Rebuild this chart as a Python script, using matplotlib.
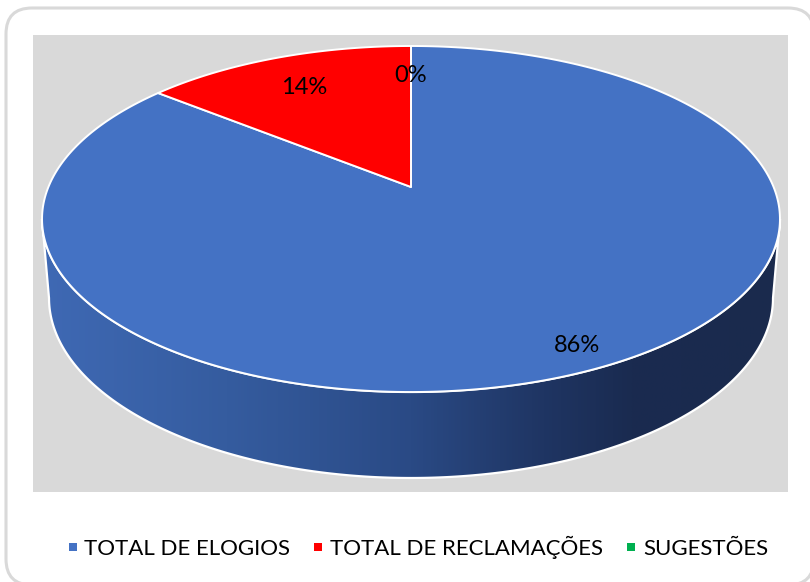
import numpy as np
import matplotlib
matplotlib.use("Agg")
import matplotlib.pyplot as plt
from matplotlib.lines import Line2D
from matplotlib.patches import FancyBboxPatch, Polygon
from matplotlib.colors import LinearSegmentedColormap

categories = ["TOTAL DE ELOGIOS", "TOTAL DE RECLAMAÇÕES", "SUGESTÕES"]
values = [85.8, 14.2, 0]
colors = ["#4472C4", "#FF0000", "#00B050"]
label_pos = [(577, 345), (304, 87), (411, 76)]

FONT = "Lato"
W, H = 810, 582
fig = plt.figure(figsize=(W / 100, H / 100), dpi=100)
ax = fig.add_axes([0, 0, 1, 1])
ax.set_xlim(0, W)
ax.set_ylim(H, 0)
ax.axis("off")

# frame and plot area
ax.add_patch(FancyBboxPatch((6, 8), 808, 577, boxstyle="round,pad=0,rounding_size=26",
                            fc="white", ec="#D9D9D9", lw=2.2, zorder=0))
ax.fill_between([33, 788], 35, 492, color="#D9D9D9", lw=0, zorder=1)

# perspective mapping of the unit disc onto the top face
CX, K, A, B, C = 411, 362.6, -132.5, 187.0, 0.185


def project(u, v):
    d = C * v + 1
    return CX + K * u / d, (A * v + B) / d


def sector(start, stop):
    t = np.linspace(start, stop, 300)
    x, y = project(np.sin(t), np.cos(t))
    return np.r_[[project(0, 0)[0]], x], np.r_[[project(0, 0)[1]], y]


# side wall
phi = np.linspace(0, np.pi, 300)
top_x, top_y = 411 + 369 * np.cos(phi), 219 + 173 * np.sin(phi)
bot_x, bot_y = 411 + 362 * np.cos(phi), 298 + 180 * np.sin(phi)
side = np.c_[np.r_[top_x, bot_x[::-1]], np.r_[top_y, bot_y[::-1]]]
cmap = LinearSegmentedColormap.from_list(
    "side",
    [(0, "#3F69B4"), (0.25, "#355C9F"), (0.5, "#2A4A85"), (0.68, "#1F3563"),
     (0.8, "#1A2B50"), (1, "#1A2A4D")],
)
poly = Polygon(side, closed=True, fc="none", ec="white", lw=1.6, zorder=2)
ax.add_patch(poly)
img = ax.imshow(np.linspace(0, 1, 512)[None, :], cmap=cmap, extent=[42, 780, 490, 200],
                aspect="auto", zorder=1.5)
img.set_clip_path(poly)
ax.set_xlim(0, W)
ax.set_ylim(H, 0)

# top face
fractions = np.array(values, dtype=float) / sum(values)
edges = np.r_[0, np.cumsum(fractions)] * 2 * np.pi
for i, col in enumerate(colors):
    if values[i] == 0:
        continue
    x, y = sector(edges[i], edges[i + 1])
    ax.fill(x, y, fc=col, ec="white", lw=1.4, joinstyle="round", zorder=3)

for v, (lx, ly) in zip(values, label_pos):
    ax.text(lx, ly, f"{v:.0f}%", ha="center", va="center", fontsize=17, color="black",
            family=FONT, zorder=5)

handles = [Line2D([], [], ls="none", marker="s", ms=5.6, mfc=c, mec=c, mew=0) for c in colors]
ax.legend(handles, categories, ncol=3, loc="center", bbox_to_anchor=(417 / W, 1 - 547 / H),
          bbox_transform=fig.transFigure, frameon=False, handlelength=0.6, handletextpad=0.22,
          columnspacing=0.97, prop={"family": FONT, "size": 16}, labelcolor="black")

fig.savefig("out.png", dpi=100)
